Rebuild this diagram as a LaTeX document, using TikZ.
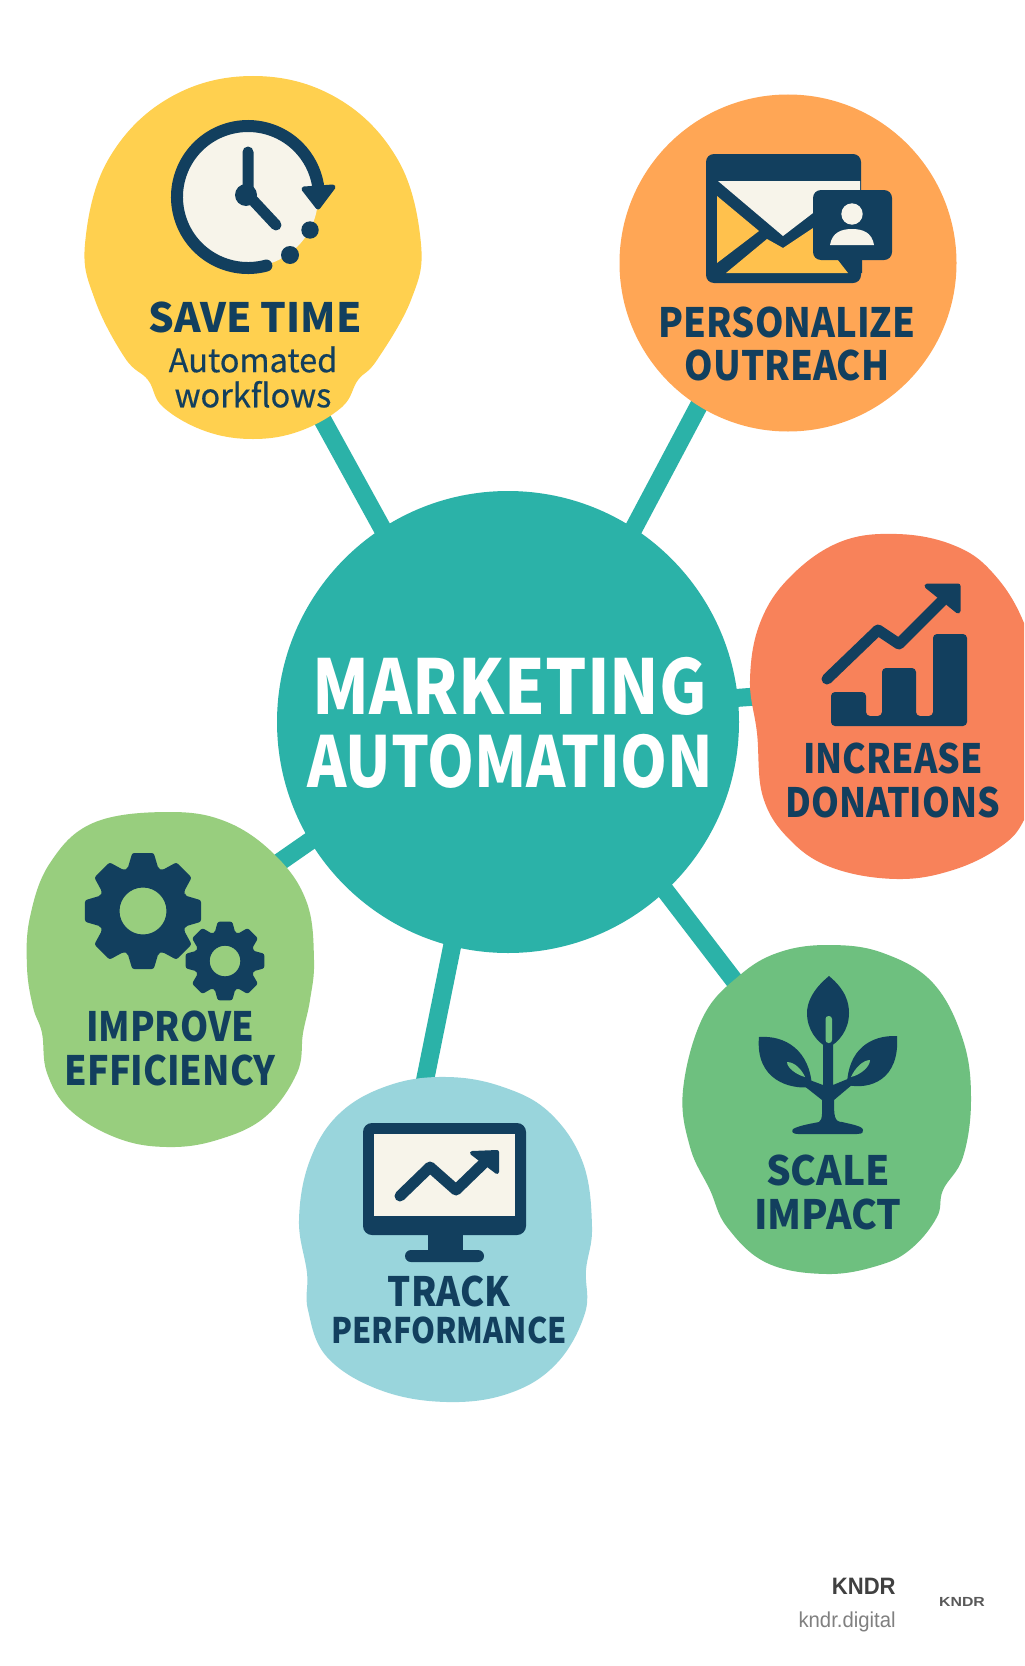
\documentclass[tikz,border=0pt]{standalone}
\usepackage{fontspec}
\usetikzlibrary{backgrounds}
\newfontfamily\labelfont{Noto Sans CJK SC}
\newfontfamily\footfont{Liberation Sans}
\definecolor{navy}{HTML}{123F5E}
\definecolor{cream}{HTML}{F7F4EA}
\definecolor{teal}{HTML}{2BB2A8}
\definecolor{yellowb}{HTML}{FFD04F}
\definecolor{orangeb}{HTML}{FFA655}
\definecolor{coralb}{HTML}{F8825A}
\definecolor{limeb}{HTML}{98CE7E}
\definecolor{aquab}{HTML}{99D5DC}
\definecolor{greenb}{HTML}{6EC07F}
\definecolor{mailb}{HTML}{FFC14D}
\tikzset{
    spot/.style={circle,inner sep=0pt,outer sep=0pt,minimum size=#1*0.02cm},
    blob/.style={fill=#1,tension=0.65},
    link/.style={draw=teal,line width=0.36cm,shorten <=-0.2cm,shorten >=-0.2cm},
    head/.style={font=\labelfont\bfseries\addfontfeature{FakeStretch=#1}\fontsize{23}{25}\selectfont,text=navy,align=center,inner sep=0pt},
    icon/.style={line width=0.22cm,line cap=round,line join=round,draw=navy}
}
% gear: tip radius, root radius, hole radius
\newcommand{\gearpath}[3]{
    \fill[navy,even odd rule,rounded corners=1.2pt] (-20:#2)
        \foreach \a in {0,45,...,315} { -- (\a-20:#2) -- (\a-10.5:#1) -- (\a+10.5:#1) -- (\a+20:#2) } -- cycle
        (0,0) circle (#3);
}

\begin{document}
\begin{tikzpicture}[x=0.02cm,y=-0.02cm]
    \clip (0,0) rectangle (1024,1666);

    % bubbles
    \fill[blob=yellowb] plot[smooth cycle] coordinates {(253,76) (337,98) (398,160) (421,244) (411,300) (377,360) (358,380) (342,407) (300,431) (253,439) (205,431) (163,407) (148,380) (125,358) (95,300) (85,244) (108,160) (169,98)};
    \fill[blob=coralb] plot[smooth cycle] coordinates {(897,534) (953,545) (992,572) (1024,623) (1045,700) (1040,770) (1024,820) (1000,847) (953,870) (897,879) (833,868) (790,840) (763,797) (757,733) (750,680) (760,623) (790,577) (840,542)};
    \fill[blob=limeb] plot[smooth cycle] coordinates {(167,812) (227,822) (277,857) (307,903) (314,960) (310,1000) (303,1033) (297,1073) (265,1117) (217,1140) (167,1147) (117,1138) (70,1110) (47,1073) (42,1033) (33,1007) (27,967) (30,917) (50,863) (93,823)};
    \fill[blob=aquab] plot[smooth cycle] coordinates {(447,1077) (503,1087) (550,1113) (583,1163) (592,1227) (586,1270) (585,1313) (557,1363) (510,1393) (447,1402) (380,1390) (327,1357) (308,1310) (307,1273) (299,1220) (310,1160) (340,1113) (390,1085)};
    \fill[blob=greenb] plot[smooth cycle] coordinates {(830,945) (883,953) (933,983) (963,1040) (971,1100) (963,1157) (943,1190) (937,1217) (912,1248) (880,1265) (827,1274) (767,1263) (727,1227) (710,1190) (690,1147) (683,1090) (703,1017) (740,975) (780,952)};

    \node[spot=462,fill=teal] (hub) at (508,722) {};
    \node[spot=336] (savetime) at (253,240) {};
    \node[spot=337,fill=orangeb] (outreach) at (788,263) {};
    \node[spot=300] (donations) at (897,705) {};
    \node[spot=300] (efficiency) at (170,980) {};
    \node[spot=320] (performance) at (447,1240) {};
    \node[spot=310] (impact) at (828,1105) {};

    \begin{scope}[on background layer]
        \fill[white] (0,0) rectangle (1024,1666);
        \draw[link] (hub.123.4) -- (savetime.-70.5);
        \draw[link] (hub.57) -- (outreach.238.7);
        \draw[link] (hub.6.5) -- (donations.177.1);
        \draw[link] (hub.211) -- (efficiency.48);
        \draw[link] (hub.256.4) -- (performance.98);
        \draw[link] (hub.-47.5) -- (impact.127.7);
    \end{scope}

    % clock
    \fill[cream] (248,197) circle (70);
    \draw[navy,line width=0.24cm,line cap=round] (248,197) ++(75:71) arc[start angle=75,end angle=350,radius=71];
    \fill[navy,draw=navy,line width=0.1cm,line join=round] (304,189) -- (333,187) -- (318,207) -- cycle;
    \fill[navy] (310,230) circle (8.7) (290,255) circle (9) (246,195) circle (11);
    \draw[icon] (248,152) -- (248,195) -- (276,225);

    % envelope
    \fill[navy,rounded corners=1.6mm] (706,154) rectangle (861,283);
    \fill[cream] (718,181) -- (860,181) -- (860,200) -- (813,213) -- (783,236) -- cycle;
    \fill[mailb] (717,196) -- (759,231) -- (717,263) -- cycle;
    \fill[mailb] (726,273) -- (767,239) -- (783,248) -- (813,228) -- (830,250) -- (848,273) -- cycle;
    \fill[navy,rounded corners=1.6mm] (813,190) rectangle (892,260);
    \fill[navy] (842,258) -- (850,273) -- (862,273) -- (862,258) -- cycle;
    \fill[cream] (852,214) circle (10.7);
    \fill[cream] (830,245) .. controls (832,232) and (842,229) .. (852,229) .. controls (862,229) and (872,232) .. (874,245) -- cycle;

    % bars
    \fill[navy,rounded corners=0.08cm] (831,692) -- (866,692) -- (866,716) -- (882,716) -- (882,668) -- (916,668) -- (916,716) -- (933,716) -- (933,634) -- (967,634) -- (967,726) -- (831,726) -- cycle;
    \draw[icon] (827,679) -- (878,630) -- (899,644) -- (942,601);
    \fill[navy,draw=navy,line width=0.1cm,line join=round] (927,586) -- (958,586) -- (958,611) -- cycle;

    % gears
    \begin{scope}[shift={(143,911)}]
        \gearpath{59}{45}{23.5}
    \end{scope}
    \begin{scope}[shift={(225,961)}]
        \gearpath{40}{30}{15.3}
    \end{scope}

    % monitor
    \fill[navy,rounded corners=1.8mm] (363,1123) rectangle (526,1235);
    \fill[cream] (374,1134) rectangle (515,1216);
    \fill[navy] (428,1230) rectangle (463,1252);
    \fill[navy,rounded corners=1.2mm] (405,1250) rectangle (484,1262);
    \draw[icon] (400,1196) -- (430,1167) -- (456,1190) -- (487,1160);
    \fill[navy,draw=navy,line width=0.08cm,line join=round] (472,1153) -- (497,1152) -- (497,1172) -- cycle;

    % plant
    \fill[navy] (829,976) .. controls (812,990) and (807,1003) .. (807,1013) .. controls (807,1030) and (817,1042) .. (828,1048) .. controls (839,1042) and (849,1030) .. (849,1013) .. controls (849,1003) and (846,990) .. (829,976) -- cycle;
    \fill[navy] (759,1037) .. controls (785,1035) and (810,1050) .. (812,1087) .. controls (790,1090) and (755,1080) .. (759,1037) -- cycle;
    \fill[navy] (897,1036) .. controls (870,1035) and (848,1050) .. (847,1085) .. controls (870,1090) and (900,1080) .. (897,1036) -- cycle;
    \fill[navy] (823,1045) -- (833,1045) -- (833,1085) -- (850,1078) -- (853,1084) -- (834,1100) .. controls (834,1115) and (834,1122) .. (842,1122) .. controls (850,1124) and (863,1126) .. (863,1130) .. controls (863,1134) and (860,1134) .. (857,1134) -- (798,1134) .. controls (793,1134) and (791,1132) .. (793,1129) .. controls (800,1125) and (815,1123) .. (819,1122) .. controls (823,1120) and (822,1110) .. (822,1100) -- (803,1085) -- (807,1079) -- (823,1085) -- cycle;
    \fill[greenb,rounded corners=0.06cm] (825.5,1016) rectangle (832,1043);
    \fill[greenb] (787,1062) .. controls (795,1062) and (802,1070) .. (805,1077) .. controls (797,1075) and (787,1068) .. (787,1062) -- cycle;
    \fill[greenb] (870,1060) .. controls (863,1060) and (855,1068) .. (851,1077) .. controls (860,1075) and (870,1067) .. (870,1060) -- cycle;

    % labels
    \node[font=\labelfont\bfseries\fontsize{43}{42}\selectfont,text=white,align=center,inner sep=0pt] (hubtext) at (510,723) {{\addfontfeature{FakeStretch=0.86}MARKETING}\\[-0.5pt]{\addfontfeature{FakeStretch=0.85}\fontsize{40}{42}\selectfont AUTOMATION}};
    \node[head=1] (savetext) at (255,317) {SAVE TIME};
    \node[font=\labelfont\addfontfeature{FakeBold=0.5}\fontsize{18.5}{20}\selectfont,text=navy,align=center,inner sep=0pt] (subtext) at (253,377) {Automated\\workflows};
    \node[head=0.9] (outreachtext) at (787,344) {PERSONALIZE\\OUTREACH};
    \node[head=0.88] (donationstext) at (893,780) {INCREASE\\DONATIONS};
    \node[head=0.89] (efficiencytext) at (170,1048) {IMPROVE\\EFFICIENCY};
    \node[head=0.9] (performancetext) at (449,1310) {TRACK\\[-3.6pt]{\addfontfeature{FakeStretch=0.87}\fontsize{20}{22}\selectfont PERFORMANCE}};
    \node[head=0.96] (impacttext) at (828,1192) {SCALE\\IMPACT};

    % footer
    \node[font=\footfont\bfseries\addfontfeature{FakeStretch=0.93}\fontsize{13.5}{15}\selectfont,text=black!75,anchor=base east,inner sep=0pt] (brand) at (896,1594) {KNDR};
    \node[font=\footfont\addfontfeature{FakeStretch=0.94}\fontsize{12.3}{14}\selectfont,text=black!50,anchor=base east,inner sep=0pt] (site) at (896,1627) {kndr.digital};
    \node[font=\footfont\bfseries\addfontfeature{FakeStretch=1.2}\fontsize{7.5}{8}\selectfont,text=black!65,anchor=base,inner sep=0pt] (stamp) at (962,1606) {KNDR};
\end{tikzpicture}
\end{document}
